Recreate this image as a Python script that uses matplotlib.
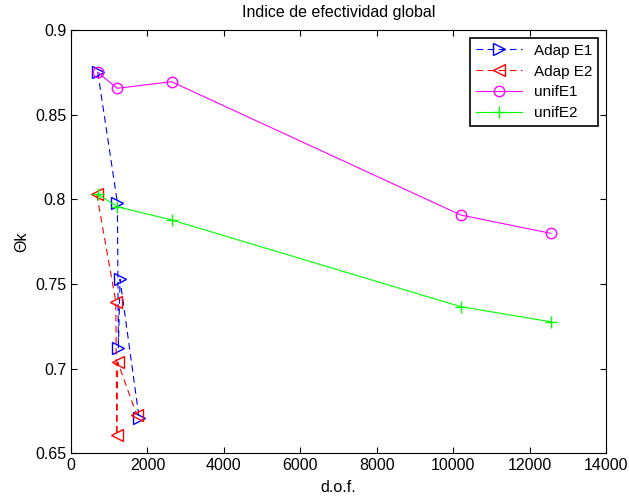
import matplotlib
matplotlib.use('Agg')
import matplotlib.pyplot as plt

plt.rcParams['font.family'] = ['Liberation Sans', 'DejaVu Sans']

# adaptive refinement, estimator E1 / E2
adap_e1_dof = [699, 1212, 1238, 1282, 1780]
adap_e1_val = [0.875, 0.798, 0.712, 0.7528, 0.671]
adap_e2_dof = [672, 1170, 1196, 1222, 1719]
adap_e2_val = [0.803, 0.7395, 0.6609, 0.7038, 0.6727]

# uniform refinement
unif_dof = [700, 1205, 2630, 10200, 12555]
unif_e1_val = [0.875, 0.8655, 0.8694, 0.7907, 0.7799]
unif_e2_val = [0.803, 0.7956, 0.7878, 0.7366, 0.7277]

fig = plt.figure(figsize=(6.29, 4.98), dpi=100)
ax = fig.add_axes([0.113, 0.0896, 0.8504, 0.8504])

ax.plot(adap_e1_dof, adap_e1_val, '--', color='blue', marker='>', mfc='none',
        ms=8, lw=0.8, dashes=(6, 4), label='Adap E1')
ax.plot(adap_e2_dof, adap_e2_val, '--', color='red', marker='<', mfc='none',
        ms=8, lw=0.8, dashes=(6, 4), label='Adap E2')
ax.plot(unif_dof, unif_e1_val, '-', color='magenta', marker='o', mfc='none',
        ms=7.5, lw=0.8, label='unifE1')
ax.plot(unif_dof, unif_e2_val, '-', color='#00ff00', marker='+',
        ms=8, lw=0.8, label='unifE2')

ax.set_xlim(0, 14000)
ax.set_ylim(0.65, 0.9)
ax.set_xticks(range(0, 14001, 2000))
ax.set_yticks([0.65, 0.7, 0.75, 0.8, 0.85, 0.9])
ax.set_yticklabels(['0.65', '0.7', '0.75', '0.8', '0.85', '0.9'])
ax.tick_params(direction='in', top=True, right=True, labelsize=11.5, length=4)
for s in ax.spines.values():
    s.set_linewidth(0.8)

ax.set_title('Indice de efectividad global', fontsize=11.5, pad=9)
ax.set_xlabel('d.o.f.', fontsize=11.5, labelpad=5)
ax.set_ylabel('Θk', fontsize=11.5)

leg = ax.legend(loc='upper right', numpoints=1, fontsize=11, fancybox=False,
                edgecolor='black', framealpha=1, handlelength=3.0,
                borderaxespad=0.5, labelspacing=0.45)
leg.get_frame().set_linewidth(1.2)

plt.savefig('out.png', dpi=100)
